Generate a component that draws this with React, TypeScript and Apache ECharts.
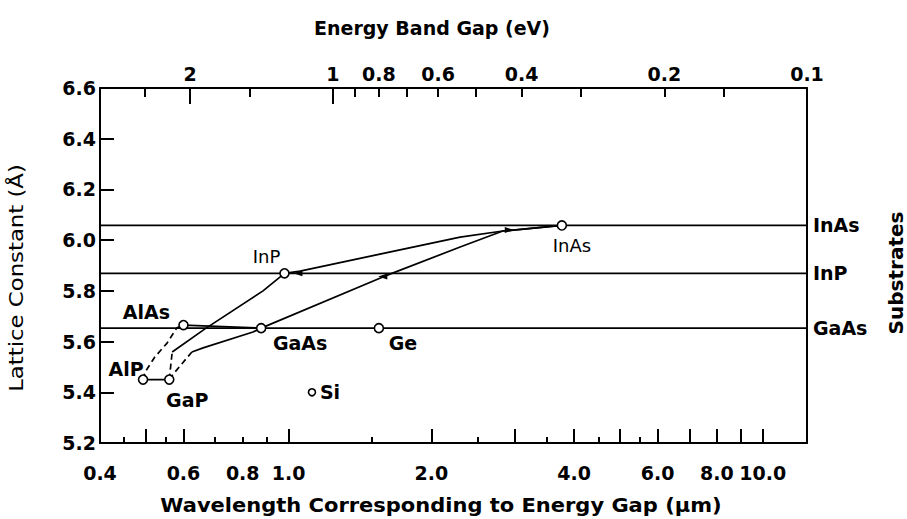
import React, { useEffect, useRef } from "react";
import * as echarts from "echarts";

// photon energy (eV) = HC / wavelength (µm)
const HC = 1.24;

// wavelength axis (µm), drawn on a log10 scale
const wavelengthRange = [0.4, 12.4];
const wavelengthLabels = [0.4, 0.6, 0.8, 1.0, 2.0, 4.0, 6.0, 8.0, 10.0];
const wavelengthMajorTicks = [0.5, 0.6, 1, 2, 3, 4, 5, 6, 7, 8, 9, 10];
const wavelengthMinorTicks = [0.45, 0.55, 0.7, 0.8, 0.9, 1.5, 2.5, 3.5, 4.5, 5.5];

// energy band gap axis (eV)
const energyLabels = [2, 1, 0.8, 0.6, 0.4, 0.2, 0.1];
const energyMajorTicks = [2, 1];
const energyMinorTicks = [2.5, 1.5, 0.9, 0.8, 0.7, 0.6, 0.5, 0.4, 0.3, 0.2, 0.15];

// lattice constant axis (Å)
const latticeMin = 5.2;
const latticeMax = 6.6;
const latticeStep = 0.2;

// binary compounds and elements
const materials = ["AlP", "GaP", "AlAs", "GaAs", "InP", "InAs", "Ge", "Si"];
const materialWavelength = [0.493, 0.56, 0.6, 0.875, 0.98, 3.77, 1.55, 1.12];
const materialLattice = [5.45, 5.45, 5.665, 5.653, 5.869, 6.058, 5.653, 5.4];

// substrate lattice constants
const substrates = ["InAs", "InP", "GaAs"];
const substrateLattice = [6.058, 5.869, 5.653];

// ternary alloy curves (wavelength µm, lattice Å)
const alpGapWl = [0.493, 0.56];
const alpGapA = [5.45, 5.45];
const alpAlasWl = [0.493, 0.498, 0.522, 0.554, 0.581, 0.6];
const alpAlasA = [5.45, 5.48, 5.539, 5.594, 5.654, 5.665];
const gapInpIndirectWl = [0.56, 0.568];
const gapInpIndirectA = [5.45, 5.559];
const gapInpDirectWl = [0.568, 0.666, 0.883, 0.98];
const gapInpDirectA = [5.559, 5.65, 5.8, 5.869];
const gapGaasIndirectWl = [0.56, 0.57, 0.625];
const gapGaasIndirectA = [5.45, 5.47, 5.559];
const gapGaasDirectWl = [0.625, 0.66, 0.841, 0.875];
const gapGaasDirectA = [5.559, 5.575, 5.638, 5.653];
const alasGaasWl = [0.6, 0.875];
const alasGaasA = [5.665, 5.653];
const inpInasWl = [0.98, 1.057, 1.558, 2.3, 2.83, 3.77];
const inpInasA = [5.869, 5.878, 5.945, 6.012, 6.036, 6.058];
const gaasInasWl = [0.875, 1.58, 2.3, 2.83, 3.77];
const gaasInasA = [5.653, 5.855, 5.973, 6.036, 6.058];

// arrowheads along the curves
const arrowWl = [1.046, 1.58, 2.92];
const arrowA = [5.869, 5.857, 6.04];

const FONT = '"DejaVu Sans", "Liberation Sans", sans-serif';

const log = Math.log10;
const pts = (wl: number[], a: number[]) => wl.map((w, i) => [log(w), a[i]]);
const eToX = (e: number) => log(HC / e);

// label placement for each material marker (offset from its centre, px)
const labelStyle: Record<string, { offset: [number, number]; bold: boolean }> = {
  AlP: { offset: [-17, -11], bold: true },
  GaP: { offset: [18, 20], bold: true },
  AlAs: { offset: [-37, -13], bold: true },
  GaAs: { offset: [39, 15], bold: true },
  InP: { offset: [-18, -17], bold: false },
  InAs: { offset: [10, 20], bold: false },
  Ge: { offset: [24, 15], bold: true },
  Si: { offset: [18, 0], bold: true },
};

export default function App() {
  const ref = useRef<HTMLDivElement>(null);

  useEffect(() => {
    if (!ref.current) return;
    const chart = echarts.init(ref.current, undefined, { renderer: "svg" });

    const xMin = log(wavelengthRange[0]);
    const xMax = log(wavelengthRange[1]);
    const axisColor = "#000";
    const tickLabel = {
      color: "#000",
      fontFamily: FONT,
      fontWeight: "bold" as const,
      fontSize: 19,
    };
    const axisLine = {
      show: true,
      onZero: false,
      lineStyle: { color: axisColor, width: 2 },
    };

    const curve = (name: string, wl: number[], a: number[], dashed: boolean) => ({
      name,
      type: "line",
      data: pts(wl, a),
      showSymbol: false,
      symbol: "none",
      lineStyle: {
        color: "#000",
        width: 1.7,
        type: dashed ? [6, 4] : "solid",
      },
      z: 3,
      silent: true,
    });

    const substrateSeries = substrates.map((name, i) => ({
      name,
      type: "line",
      data: [
        [xMin, substrateLattice[i]],
        [xMax, substrateLattice[i]],
      ],
      showSymbol: false,
      symbol: "none",
      clip: false,
      lineStyle: { color: "#000", width: 1.8 },
      endLabel: {
        show: true,
        formatter: name,
        distance: 6,
        color: "#000",
        fontFamily: FONT,
        fontWeight: "bold",
        fontSize: 19,
      },
      z: 2,
      silent: true,
    }));

    const option: any = {
      animation: false,
      backgroundColor: "#fff",
      grid: { left: 100, right: 100, top: 88, bottom: 76, containLabel: false },
      xAxis: [
        {
          type: "value",
          position: "bottom",
          min: xMin,
          max: xMax,
          axisLine,
          axisTick: {
            show: true,
            inside: true,
            length: 14,
            customValues: wavelengthMajorTicks.map(log),
            lineStyle: { color: axisColor, width: 2 },
          },
          axisLabel: {
            ...tickLabel,
            margin: 20,
            customValues: wavelengthLabels.map(log),
            formatter: (v: number) => Math.pow(10, v).toFixed(1),
          },
          splitLine: { show: false },
        },
        {
          type: "value",
          position: "bottom",
          min: xMin,
          max: xMax,
          axisLine: { show: false, onZero: false },
          axisTick: {
            show: true,
            inside: true,
            length: 6,
            customValues: wavelengthMinorTicks.map(log),
            lineStyle: { color: axisColor, width: 2 },
          },
          axisLabel: { show: false },
          splitLine: { show: false },
        },
        {
          type: "value",
          position: "top",
          min: xMin,
          max: xMax,
          axisLine,
          axisTick: {
            show: true,
            inside: true,
            length: 16,
            customValues: energyMajorTicks.map(eToX),
            lineStyle: { color: axisColor, width: 2 },
          },
          axisLabel: {
            ...tickLabel,
            margin: 5,
            customValues: energyLabels.map(eToX),
            formatter: (v: number) => {
              const e = energyLabels.find((x) => Math.abs(eToX(x) - v) < 1e-6);
              return e === undefined ? "" : String(e);
            },
          },
          splitLine: { show: false },
        },
        {
          type: "value",
          position: "top",
          min: xMin,
          max: xMax,
          axisLine: { show: false, onZero: false },
          axisTick: {
            show: true,
            inside: true,
            length: 9,
            customValues: energyMinorTicks.map(eToX),
            lineStyle: { color: axisColor, width: 2 },
          },
          axisLabel: { show: false },
          splitLine: { show: false },
        },
      ],
      yAxis: [
        {
          type: "value",
          position: "left",
          min: latticeMin,
          max: latticeMax,
          interval: latticeStep,
          axisLine,
          axisTick: {
            show: true,
            inside: true,
            length: 14,
            lineStyle: { color: axisColor, width: 2 },
          },
          axisLabel: {
            ...tickLabel,
            margin: 4,
            formatter: (v: number) => v.toFixed(1),
          },
          splitLine: { show: false },
        },
        {
          type: "value",
          position: "right",
          min: latticeMin,
          max: latticeMax,
          interval: latticeStep,
          axisLine,
          axisTick: { show: false },
          axisLabel: { show: false },
          splitLine: { show: false },
        },
      ],
      series: [
        ...substrateSeries,
        curve("AlP-GaP", alpGapWl, alpGapA, false),
        curve("AlP-AlAs", alpAlasWl, alpAlasA, true),
        curve("GaP-InP indirect", gapInpIndirectWl, gapInpIndirectA, true),
        curve("GaP-InP", gapInpDirectWl, gapInpDirectA, false),
        curve("GaP-GaAs indirect", gapGaasIndirectWl, gapGaasIndirectA, true),
        curve("GaP-GaAs", gapGaasDirectWl, gapGaasDirectA, false),
        curve("AlAs-GaAs", alasGaasWl, alasGaasA, false),
        curve("InP-InAs", inpInasWl, inpInasA, false),
        curve("GaAs-InAs", gaasInasWl, gaasInasA, false),
        {
          name: "arrows",
          type: "scatter",
          data: pts(arrowWl, arrowA),
          symbol: "triangle",
          symbolSize: [6, 9],
          symbolRotate: (_v: any, p: any) => (p.dataIndex === 2 ? -90 : 90),
          itemStyle: { color: "#000", opacity: 1 },
          z: 4,
          silent: true,
        },
        {
          name: "materials",
          type: "scatter",
          z: 5,
          silent: true,
          data: materials.map((m, i) => {
            const s = labelStyle[m];
            return {
              name: m,
              value: [log(materialWavelength[i]), materialLattice[i]],
              symbolSize: m === "Si" ? 7 : 9,
              label: {
                show: true,
                position: "inside",
                offset: s.offset,
                formatter: m,
                color: "#000",
                opacity: 1,
                textBorderWidth: 0,
                textBorderColor: "transparent",
                fontFamily: FONT,
                fontWeight: s.bold ? "bold" : "normal",
                fontSize: s.bold ? 19 : 18,
              },
            };
          }),
          symbol: "circle",
          itemStyle: {
            color: "#fff",
            borderColor: "#000",
            borderWidth: 1.6,
            opacity: 1,
          },
        },
      ],
      graphic: [
        {
          type: "text",
          x: 432,
          y: 28,
          style: {
            text: "Energy Band Gap (eV)",
            fill: "#000",
            fontFamily: FONT,
            fontWeight: "bold",
            fontSize: 19,
            align: "center",
            verticalAlign: "middle",
          },
        },
        {
          type: "text",
          x: 441,
          y: 505,
          scaleX: 1.05,
          style: {
            text: "Wavelength Corresponding to Energy Gap (\u00b5m)",
            fill: "#000",
            fontFamily: FONT,
            fontWeight: "bold",
            fontSize: 20,
            align: "center",
            verticalAlign: "middle",
          },
        },
        {
          type: "text",
          x: 17,
          y: 278,
          rotation: Math.PI / 2,
          scaleX: 1.2,
          style: {
            text: "Lattice Constant (\u00c5)",
            fill: "#000",
            fontFamily: FONT,
            fontSize: 19,
            align: "center",
            verticalAlign: "middle",
          },
        },
        {
          type: "text",
          x: 896,
          y: 273,
          rotation: Math.PI / 2,
          style: {
            text: "Substrates",
            fill: "#000",
            fontFamily: FONT,
            fontWeight: "bold",
            fontSize: 20,
            align: "center",
            verticalAlign: "middle",
          },
        },
      ],
    };

    chart.setOption(option);
    return () => chart.dispose();
  }, []);

  return (
    <div
      ref={ref}
      style={{
        position: "fixed",
        left: 0,
        top: 0,
        width: 907,
        height: 519,
        background: "#fff",
      }}
    />
  );
}
